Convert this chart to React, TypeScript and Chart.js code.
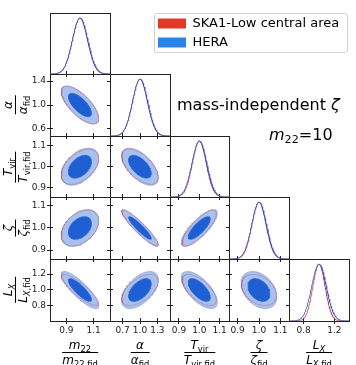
import React, { useEffect, useRef } from 'react';
import { Chart, registerables } from 'chart.js';

Chart.register(...registerables);
Chart.defaults.font.family = "'DejaVu Sans', sans-serif";

// ---------------- data ----------------
const PARAMS = ['m22', 'alpha', 'Tvir', 'zeta', 'LX'];
const AXIS_MIN = [0.78, 0.48, 0.856, 0.86, 0.61];
const AXIS_MAX = [1.22, 1.52, 1.146, 1.14, 1.39];
const X_TICKS = [[0.9, 1.1], [0.7, 1.0, 1.3], [0.9, 1.0, 1.1], [0.9, 1.0, 1.1], [0.8, 1.2]];
const Y_TICKS = [[], [0.6, 1.0, 1.4], [0.9, 1.0, 1.1], [0.9, 1.0, 1.1], [0.8, 1.0, 1.2]];
const SERIES = ['SKA1-Low central area', 'HERA'];
const MEAN_SKA = [1.0, 1.0, 1.0, 1.0, 1.0];
const MEAN_HERA = [1.0, 1.0, 1.0, 1.0, 1.0];
const SIGMA_SKA = [0.056, 0.129, 0.034, 0.033, 0.08];
const SIGMA_HERA = [0.056, 0.13, 0.036, 0.034, 0.095];
const RHO_SKA = [[], [-0.71], [0.48, -0.59], [0.41, -0.92, 0.81], [-0.86, 0.57, -0.63, -0.33]];
const RHO_HERA = [[], [-0.7], [0.45, -0.58], [0.4, -0.92, 0.8], [-0.84, 0.55, -0.65, -0.35]];
const CONTOUR_LEVELS = [0.68, 0.95];
const DIAG_YMAX = 1.09;
const SYMBOL = ['m', 'α', 'T', 'ζ', 'L'];
const SUBSCRIPT = ['22', '', 'vir', '', 'X'];
const TITLE = 'mass-independent';
const TITLE_SYMBOL = 'ζ';
const MASS_VALUE = '10';

// ---------------- styling / layout ----------------
const COL_X = [50, 110, 170, 229, 289, 349];
const ROW_Y = [13, 74, 136, 197, 259, 321];
const FIG_W = 356;
const FIG_H = 365;
const M = 8;
const OUTER_FILL = '#a8c1ef';
const OUTER_EDGE = '#88a4e3';
const INNER_FILL = '#1f5fd4';
const INNER_EDGE = '#2a62cc';
const SKA_EDGE = 'rgba(222,60,50,0.45)';
const SKA_1D = 'rgba(220,60,55,0.8)';
const HERA_1D = 'rgba(40,90,215,0.85)';
const LEGEND_COLORS = ['#e03a26', '#2a84ea'];
const FRAME = '#222';

function ellipse(mx: number, my: number, sx: number, sy: number, rho: number, level: number) {
  const r = Math.sqrt(-2 * Math.log(1 - level));
  const s = Math.sqrt(1 - rho * rho);
  const pts: { x: number; y: number }[] = [];
  const n = 120;
  for (let k = 0; k <= n; k++) {
    const t = (2 * Math.PI * k) / n;
    pts.push({ x: mx + r * sx * Math.cos(t), y: my + r * sy * (rho * Math.cos(t) + s * Math.sin(t)) });
  }
  return pts;
}

function gaussCurve(mu: number, sigma: number, lo: number, hi: number) {
  const pts: { x: number; y: number }[] = [];
  const n = 160;
  for (let k = 0; k <= n; k++) {
    const x = lo + ((hi - lo) * k) / n;
    pts.push({ x, y: Math.exp(-((x - mu) * (x - mu)) / (2 * sigma * sigma)) });
  }
  return pts;
}

type AxisSpec = {
  id: string; axis: 'x' | 'y'; position: string; min: number; max: number;
  ticks: number[]; tl: number; labels: boolean; border: boolean; size: number;
};

function makeScale(s: AxisSpec) {
  return {
    type: 'linear',
    axis: s.axis,
    position: s.position,
    min: s.min,
    max: s.max,
    display: true,
    weight: s.size === 0 ? -10 : 0,
    afterBuildTicks: (sc: any) => {
      sc.ticks = s.ticks.map((v) => ({ value: v }));
    },
    afterFit: (sc: any) => {
      if (s.axis === 'x') sc.height = s.size;
      else sc.width = s.size;
    },
    grid: {
      display: true,
      drawOnChartArea: false,
      drawTicks: s.tl !== 0 && s.ticks.length > 0,
      tickLength: s.tl,
      tickWidth: 1,
      tickColor: FRAME,
    },
    border: { display: s.border, color: FRAME, width: 1 },
    ticks: {
      display: s.labels,
      autoSkip: false,
      maxRotation: 0,
      minRotation: 0,
      padding: 1,
      color: '#222',
      font: { size: 9 },
      callback: (v: any) => Number(v).toFixed(1),
    },
  };
}

type Panel = { r: number; c: number; left: number; top: number; w: number; h: number; ML: number; MB: number };

const PANELS: Panel[] = [];
for (let r = 0; r < PARAMS.length; r++) {
  for (let c = 0; c <= r; c++) {
    const ML = c === 0 ? COL_X[0] : M;
    const MB = r === PARAMS.length - 1 ? FIG_H - ROW_Y[PARAMS.length] : M;
    const pw = COL_X[c + 1] - COL_X[c];
    const ph = ROW_Y[r + 1] - ROW_Y[r];
    PANELS.push({ r, c, left: COL_X[c] - ML, top: ROW_Y[r] - M, w: pw + ML + M, h: ph + M + MB, ML, MB });
  }
}

function panelConfig(p: Panel): any {
  const { r, c, ML, MB } = p;
  const diag = r === c;
  const last = r === PARAMS.length - 1;
  const xmin = AXIS_MIN[c], xmax = AXIS_MAX[c];
  const scales: any = {};
  scales.x = makeScale({ id: 'x', axis: 'x', position: 'bottom', min: xmin, max: xmax, ticks: X_TICKS[c], tl: 3, labels: last, border: true, size: MB });
  scales.xIn = makeScale({ id: 'xIn', axis: 'x', position: 'bottom', min: xmin, max: xmax, ticks: X_TICKS[c], tl: -3, labels: false, border: false, size: 0 });
  let datasets: any[];
  if (diag) {
    scales.xTop = makeScale({ id: 'xTop', axis: 'x', position: 'top', min: xmin, max: xmax, ticks: [], tl: 0, labels: false, border: true, size: 0 });
    scales.y = makeScale({ id: 'y', axis: 'y', position: 'left', min: 0, max: DIAG_YMAX, ticks: [], tl: 0, labels: false, border: true, size: 0 });
    scales.yRight = makeScale({ id: 'yRight', axis: 'y', position: 'right', min: 0, max: DIAG_YMAX, ticks: [], tl: 0, labels: false, border: true, size: 0 });
    datasets = [
      { label: SERIES[1], data: gaussCurve(MEAN_HERA[c], SIGMA_HERA[c], xmin, xmax), borderColor: HERA_1D, borderWidth: 1, fill: false },
      { label: SERIES[0], data: gaussCurve(MEAN_SKA[c], SIGMA_SKA[c], xmin, xmax), borderColor: SKA_1D, borderWidth: 1, fill: false },
    ];
  } else {
    const ymin = AXIS_MIN[r], ymax = AXIS_MAX[r];
    scales.xTop = makeScale({ id: 'xTop', axis: 'x', position: 'top', min: xmin, max: xmax, ticks: X_TICKS[c], tl: -3, labels: false, border: true, size: 0 });
    scales.y = makeScale({ id: 'y', axis: 'y', position: 'left', min: ymin, max: ymax, ticks: Y_TICKS[r], tl: 3, labels: c === 0, border: true, size: ML });
    scales.yIn = makeScale({ id: 'yIn', axis: 'y', position: 'left', min: ymin, max: ymax, ticks: Y_TICKS[r], tl: -3, labels: false, border: false, size: 0 });
    scales.yRight = makeScale({ id: 'yRight', axis: 'y', position: 'right', min: ymin, max: ymax, ticks: Y_TICKS[r], tl: -3, labels: false, border: true, size: 0 });
    const hInner = ellipse(MEAN_HERA[c], MEAN_HERA[r], SIGMA_HERA[c], SIGMA_HERA[r], RHO_HERA[r][c], CONTOUR_LEVELS[0]);
    const hOuter = ellipse(MEAN_HERA[c], MEAN_HERA[r], SIGMA_HERA[c], SIGMA_HERA[r], RHO_HERA[r][c], CONTOUR_LEVELS[1]);
    const sOuter = ellipse(MEAN_SKA[c], MEAN_SKA[r], SIGMA_SKA[c], SIGMA_SKA[r], RHO_SKA[r][c], CONTOUR_LEVELS[1]);
    datasets = [
      { label: SERIES[1] + ' 68%', data: hInner, fill: 'shape', backgroundColor: INNER_FILL, borderColor: INNER_EDGE, borderWidth: 0.6 },
      { label: SERIES[0] + ' 95%', data: sOuter, fill: false, borderColor: SKA_EDGE, borderWidth: 0.7 },
      { label: SERIES[1] + ' 95%', data: hOuter, fill: 'shape', backgroundColor: OUTER_FILL, borderColor: OUTER_EDGE, borderWidth: 0.8 },
    ];
  }
  return {
    type: 'line',
    data: { datasets },
    options: {
      animation: false,
      responsive: false,
      devicePixelRatio: 1,
      events: [],
      layout: { padding: { left: diag ? ML : 0, right: M, top: M, bottom: 0 } },
      elements: { point: { radius: 0 }, line: { tension: 0 } },
      plugins: { legend: { display: false }, tooltip: { enabled: false }, title: { display: false } },
      scales,
    },
  };
}

function legendConfig(): any {
  return {
    type: 'line',
    data: {
      datasets: SERIES.map((s, i) => ({ label: s, data: [], backgroundColor: LEGEND_COLORS[i], borderColor: LEGEND_COLORS[i] })),
    },
    options: {
      animation: false,
      responsive: false,
      devicePixelRatio: 1,
      events: [],
      layout: { padding: 0 },
      scales: { x: { display: false, type: 'linear' }, y: { display: false } },
      plugins: {
        tooltip: { enabled: false },
        legend: {
          display: true,
          position: 'top',
          align: 'start',
          maxHeight: 80,
          labels: {
            boxWidth: 28,
            boxHeight: 10,
            padding: 6,
            color: '#000',
            font: { size: 13, family: "'DejaVu Sans', sans-serif" },
            generateLabels: (chart: any) =>
              chart.data.datasets.map((ds: any, i: number) => ({
                text: ds.label,
                fillStyle: LEGEND_COLORS[i],
                strokeStyle: LEGEND_COLORS[i],
                lineWidth: 0,
                hidden: false,
                datasetIndex: i,
              })),
          },
        },
      },
    },
  };
}

const Sub = ({ children, italic }: { children: any; italic?: boolean }) => (
  <span style={{ fontSize: '0.7em', lineHeight: 0, position: 'relative', top: '0.3em', fontStyle: italic ? 'italic' : 'normal' }}>{children}</span>
);

function Frac({ i }: { i: number }) {
  const sub = SUBSCRIPT[i];
  const subItalic = sub === 'X';
  return (
    <div style={{ display: 'inline-flex', flexDirection: 'column', alignItems: 'center', fontSize: 12, lineHeight: '11px', color: '#000', whiteSpace: 'nowrap', padding: '0 1px' }}>
      <div style={{ height: 11 }}>
        <i>{SYMBOL[i]}</i>
        {sub && <Sub italic={subItalic}>{sub}</Sub>}
      </div>
      <div style={{ alignSelf: 'stretch', height: 0, borderTop: '1px solid #000', margin: '1px 0 2px' }} />
      <div style={{ height: 11 }}>
        <i>{SYMBOL[i]}</i>
        <Sub>
          {sub && (subItalic ? <i>{sub}</i> : sub)}
          {sub ? ',fid' : 'fid'}
        </Sub>
      </div>
    </div>
  );
}

export default function App() {
  const refs = useRef<(HTMLCanvasElement | null)[]>([]);
  const legendRef = useRef<HTMLCanvasElement | null>(null);

  useEffect(() => {
    const charts: Chart[] = [];
    PANELS.forEach((p, i) => {
      const cv = refs.current[i];
      if (cv) charts.push(new Chart(cv, panelConfig(p)));
    });
    if (legendRef.current) charts.push(new Chart(legendRef.current, legendConfig()));
    return () => charts.forEach((ch) => ch.destroy());
  }, []);

  const font = "'DejaVu Sans', sans-serif";
  return (
    <div style={{ position: 'absolute', left: 0, top: 0, width: FIG_W, height: FIG_H, background: '#fff', overflow: 'hidden', fontFamily: font }}>
      {PANELS.map((p, i) => (
        <canvas
          key={i}
          ref={(el) => {
            refs.current[i] = el;
          }}
          width={p.w}
          height={p.h}
          style={{ position: 'absolute', left: p.left, top: p.top, width: p.w, height: p.h }}
        />
      ))}
      <div style={{ position: 'absolute', left: 154, top: 13, width: 194, height: 40, border: '1px solid #d2d2d2', borderRadius: 3, boxSizing: 'border-box', background: 'rgba(255,255,255,0.8)' }} />
      <canvas ref={legendRef} width={196} height={120} style={{ position: 'absolute', left: 152, top: 11, width: 196, height: 120 }} />
      {PARAMS.map((_, i) => (
        <div key={'xl' + i} style={{ position: 'absolute', left: (COL_X[i] + COL_X[i + 1]) / 2, top: 334, transform: 'translateX(-50%)' }}>
          <Frac i={i} />
        </div>
      ))}
      {PARAMS.map((_, i) =>
        i === 0 ? null : (
          <div key={'yl' + i} style={{ position: 'absolute', left: 16, top: (ROW_Y[i] + ROW_Y[i + 1]) / 2, transform: 'translate(-50%, -50%) rotate(-90deg)', display: 'flex' }}>
            <Frac i={i} />
          </div>
        )
      )}
      <div style={{ position: 'absolute', left: 177, top: 97, fontSize: 16, lineHeight: '16px', whiteSpace: 'nowrap', color: '#000' }}>
        {TITLE} <i>{TITLE_SYMBOL}</i>
      </div>
      <div style={{ position: 'absolute', left: 269, top: 127, fontSize: 16, lineHeight: '16px', whiteSpace: 'nowrap', color: '#000' }}>
        <i>m</i>
        <Sub>22</Sub>={MASS_VALUE}
      </div>
    </div>
  );
}
